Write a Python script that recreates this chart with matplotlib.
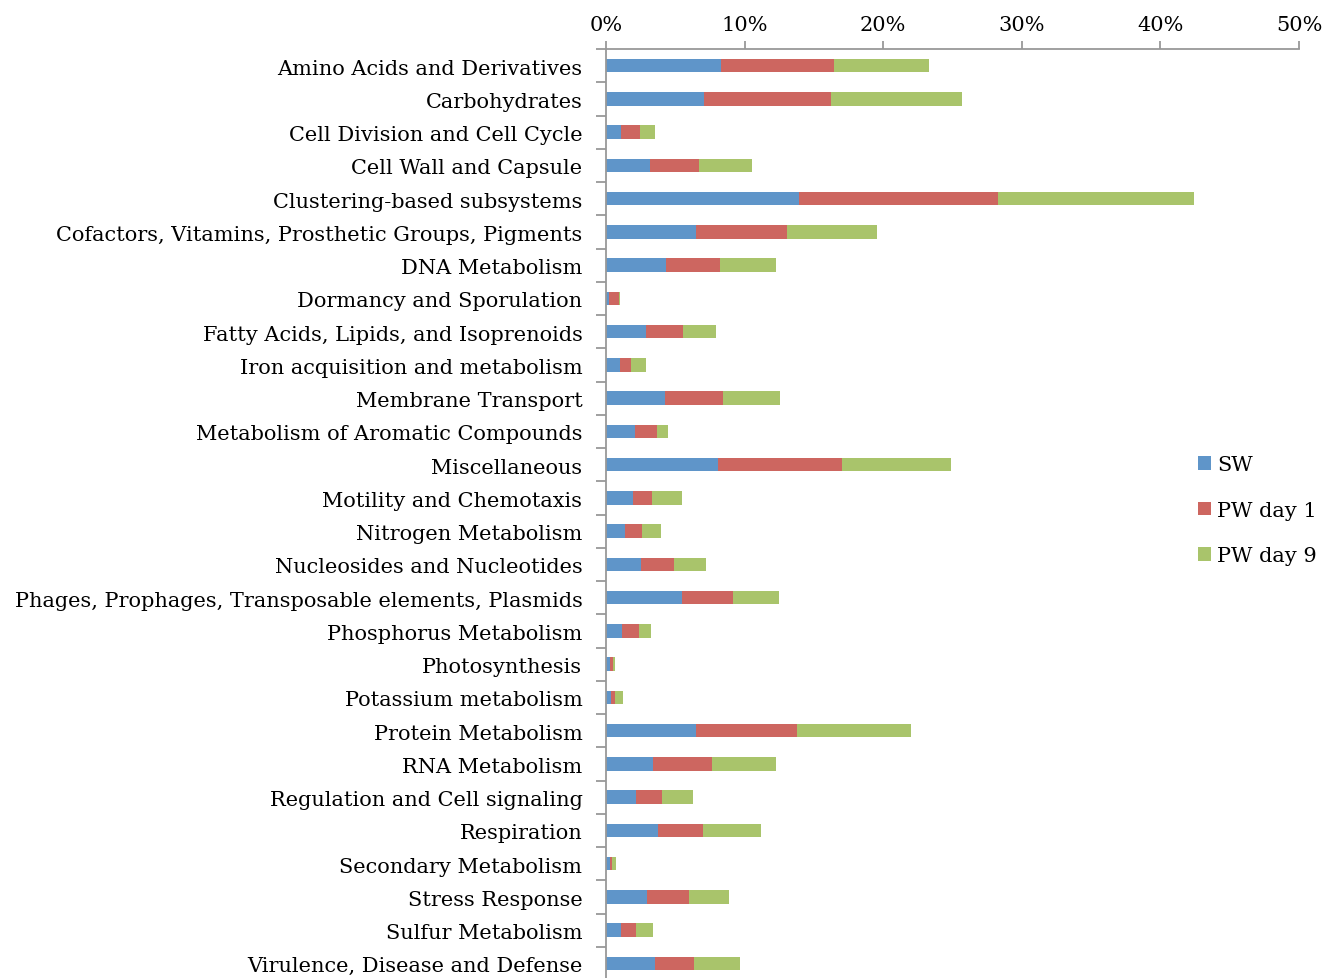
import matplotlib
matplotlib.use("Agg")
import matplotlib.pyplot as plt
import matplotlib.transforms as mtransforms
import numpy as np
from matplotlib.ticker import FuncFormatter, FixedLocator

categories = [
    "Amino Acids and Derivatives",
    "Carbohydrates",
    "Cell Division and Cell Cycle",
    "Cell Wall and Capsule",
    "Clustering-based subsystems",
    "Cofactors, Vitamins, Prosthetic Groups, Pigments",
    "DNA Metabolism",
    "Dormancy and Sporulation",
    "Fatty Acids, Lipids, and Isoprenoids",
    "Iron acquisition and metabolism",
    "Membrane Transport",
    "Metabolism of Aromatic Compounds",
    "Miscellaneous",
    "Motility and Chemotaxis",
    "Nitrogen Metabolism",
    "Nucleosides and Nucleotides",
    "Phages, Prophages, Transposable elements, Plasmids",
    "Phosphorus Metabolism",
    "Photosynthesis",
    "Potassium metabolism",
    "Protein Metabolism",
    "RNA Metabolism",
    "Regulation and Cell signaling",
    "Respiration",
    "Secondary Metabolism",
    "Stress Response",
    "Sulfur Metabolism",
    "Virulence, Disease and Defense",
]

sw = [8.30, 7.05, 1.11, 3.17, 13.95, 6.47, 4.31, 0.20, 2.91, 1.03,
      4.28, 2.08, 8.10, 1.97, 1.40, 2.51, 5.45, 1.17, 0.26, 0.34,
      6.50, 3.39, 2.14, 3.74, 0.26, 2.99, 1.06, 3.54]
pw_day1 = [8.13, 9.15, 1.34, 3.53, 14.32, 6.59, 3.90, 0.71, 2.68, 0.74,
           4.13, 1.63, 8.93, 1.34, 1.17, 2.40, 3.71, 1.20, 0.28, 0.34,
           7.25, 4.25, 1.88, 3.28, 0.17, 3.00, 1.14, 2.82]
pw_day9 = [6.90, 9.47, 1.09, 3.82, 14.17, 6.51, 4.05, 0.09, 2.34, 1.08,
           4.17, 0.74, 7.87, 2.19, 1.42, 2.31, 3.33, 0.91, 0.12, 0.57,
           8.24, 4.60, 2.23, 4.13, 0.31, 2.91, 1.19, 3.28]

series_names = ["SW", "PW day 1", "PW day 9"]
colors = ["#5F95C9", "#CD6660", "#A9C46B"]
x_ticks = [0, 10, 20, 30, 40, 50]

plt.rcParams['font.family'] = ['DejaVu Serif']

W, H = 1334, 979
fig = plt.figure(figsize=(W / 100, H / 100), dpi=100)
left, right, top, bottom = 606, 1299, 50, 981
ax = fig.add_axes([left / W, 1 - bottom / H, (right - left) / W, (bottom - top) / H])

y = np.arange(len(categories))
data = [sw, pw_day1, pw_day9]
base = np.zeros(len(categories))
handles = []
for name, vals, c in zip(series_names, data, colors):
    vals = np.array(vals)
    h = ax.barh(y, vals, left=base, height=0.4, color=c, label=name, linewidth=0)
    handles.append(h)
    base = base + vals

ax.set_ylim(len(categories) - 0.5, -0.5)
ax.set_xlim(0, 50)

ax.xaxis.tick_top()
ax.xaxis.set_major_locator(FixedLocator(x_ticks))
ax.xaxis.set_major_formatter(FuncFormatter(lambda v, p: f"{int(v)}%"))
ax.set_yticks(y)
ax.set_yticklabels(categories, va='center')
ax.yaxis.set_minor_locator(FixedLocator(np.arange(-0.5, len(categories), 1.0)))

spine_c = "#989898"
for s in ["right", "bottom"]:
    ax.spines[s].set_visible(False)
for s in ["top", "left"]:
    ax.spines[s].set_color(spine_c)
    ax.spines[s].set_linewidth(1.3)

ax.tick_params(axis='x', which='major', direction='out', length=6, width=1.3,
               color=spine_c, labelsize=15, pad=5, labelcolor='black')
ax.tick_params(axis='y', which='major', length=0, labelsize=15, pad=17)
ax.tick_params(axis='y', which='minor', direction='out', length=7, width=1.3, color=spine_c)

offset = mtransforms.ScaledTranslation(0, -2.5 / 100, fig.dpi_scale_trans)
for lbl in ax.get_yticklabels():
    lbl.set_transform(lbl.get_transform() + offset)

leg = fig.legend(handles=handles, labels=series_names, loc='upper left',
                 bbox_to_anchor=(1190 / W, 1 - 448 / H), frameon=False,
                 fontsize=15, handlelength=0.6, handleheight=0.6,
                 handletextpad=0.3, labelspacing=1.27, borderaxespad=0)

fig.savefig("out.png", dpi=100)
